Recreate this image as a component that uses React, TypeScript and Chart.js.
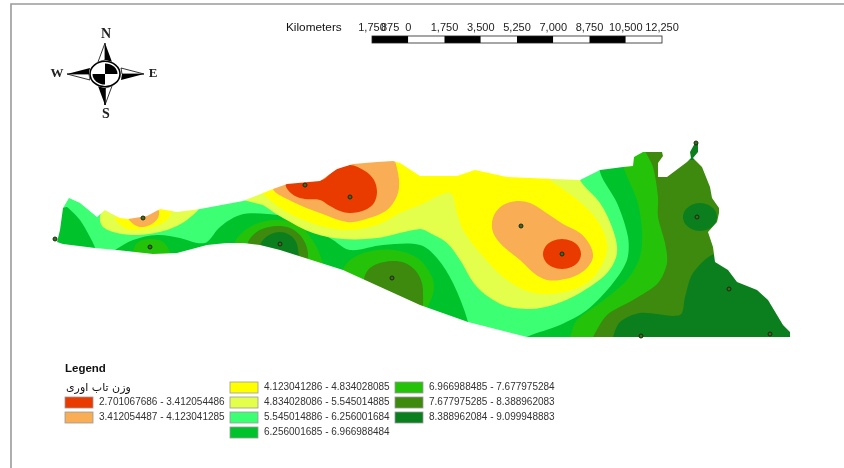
import React, { useEffect, useRef } from "react";
import { Chart, registerables } from "chart.js";

Chart.register(...registerables);

type P = [number, number];

// class breaks and colours
const classLabels = [
  "2.701067686 - 3.412054486",
  "3.412054487 - 4.123041285",
  "4.123041286 - 4.834028085",
  "4.834028086 - 5.545014885",
  "5.545014886 - 6.256001684",
  "6.256001685 - 6.966988484",
  "6.966988485 - 7.677975284",
  "7.677975285 - 8.388962083",
  "8.388962084 - 9.099948883",
];
const classColors = ["#E93A00", "#F9AE55", "#FFFF00", "#E3FF4B", "#3DFF74", "#00C32C", "#24C30A", "#3D8A0E", "#0B7F1E"];
const legendTitle = "وزن تاب اوری";
const scaleLabels = ["1,750", "875", "0", "1,750", "3,500", "5,250", "7,000", "8,750", "10,500", "12,250"];
const scaleValues = [-1750, -875, 0, 1750, 3500, 5250, 7000, 8750, 10500, 12250];

// study area boundary
const outline: P[] = [
  [57, 242], [60, 230], [63, 208], [69, 198], [80, 203], [97, 217], [105, 210], [110, 213], [120, 218], [128, 219],
  [147, 216], [160, 209], [177, 212], [200, 209], [243, 201], [273, 189], [287, 184], [320, 181], [337, 169],
  [353, 164], [377, 162], [393, 161], [400, 163], [420, 176], [457, 176], [475, 170], [507, 177], [553, 179],
  [580, 180], [600, 170], [623, 167], [633, 166], [634, 157], [643, 152], [662, 152], [663, 156], [658, 163],
  [658, 177], [667, 177], [687, 162], [691, 158], [690, 152], [695, 143], [698, 143], [698, 152], [693, 158],
  [702, 167], [710, 187], [712, 198], [719, 208], [719, 213], [717, 222], [708, 232], [713, 247], [715, 262], [728, 270],
  [737, 282], [757, 290], [768, 300], [783, 325], [790, 332], [790, 337], [527, 337], [468, 322], [420, 305],
  [343, 270], [280, 250], [260, 245], [243, 243], [227, 243], [207, 245], [177, 253], [153, 254], [117, 250],
  [95, 248], [63, 244],
];

// contour zones, back to front
const baseZone: P[] = [[40, 140], [800, 140], [800, 345], [40, 345]];
const seDark: P[] = [[613, 345], [613, 337], [620, 322], [640, 313], [680, 315], [685, 297], [693, 273], [715, 254], [790, 250], [795, 345]];
const neDark: P[] = [[717, 217], [714.7, 224], [708.5, 229], [700, 231], [691.5, 229], [685.3, 224], [683, 217], [685.3, 210], [691.5, 205], [700, 203], [708.5, 205], [714.7, 210]];
const neSliver: P[] = [[689, 160], [690, 150], [695, 142], [699, 142], [699, 152], [695, 160]];
const eastMid: P[] = [[40, 140], [645, 140], [645, 150], [653, 167], [658, 197], [658, 217], [665, 243], [667, 263], [658, 283], [633, 300], [607, 315], [593, 337], [590, 345], [40, 345]];
const eastGreen: P[] = [[40, 140], [623, 140], [623, 165], [637, 200], [642, 230], [640, 257], [627, 280], [600, 303], [577, 320], [570, 337], [568, 345], [40, 345]];
const midLightGreen: P[] = [[40, 140], [600, 140], [600, 172], [617, 203], [628, 237], [627, 260], [613, 283], [587, 310], [560, 325], [527, 337], [520, 345], [40, 345]];
const southGreen: P[] = [[115, 250], [133, 240], [157, 235], [180, 238], [197, 243], [207, 242], [220, 227], [240, 215], [267, 214], [300, 220], [333, 240], [350, 250], [383, 245], [420, 245], [437, 258], [453, 283], [468, 322], [470, 345], [115, 345]];
const westLobe: P[] = [[62, 208], [67, 207], [80, 220], [90, 237], [95, 250], [55, 250]];
const westLightYellow: P[] = [[100, 217], [107, 205], [160, 205], [200, 205], [187, 220], [167, 230], [140, 235], [117, 233], [103, 227]];
const westYellow: P[] = [[115, 218], [128, 215], [163, 205], [172, 208], [167, 220], [153, 227], [133, 230], [123, 227]];
const westOrange: P[] = [[128, 216], [158, 210], [158, 218], [150, 225], [140, 227], [132, 223]];
const lowMid: P[] = [[133, 254], [137, 243], [150, 239], [163, 242], [170, 254], [165, 262], [135, 262]];
const centerMid: P[] = [[235, 245], [240, 235], [250, 227], [262, 222], [275, 220], [290, 222], [303, 229], [313, 241], [320, 255], [322, 270], [262, 265]];
const centerOlive: P[] = [[248, 245], [252, 236], [262, 229], [277, 226], [290, 228], [300, 235], [306, 245], [308, 255], [305, 265], [260, 262]];
const centerDark: P[] = [[260, 248], [263, 240], [271, 234], [280, 232], [288, 234], [295, 240], [298, 249], [297, 262], [268, 258]];
const southMid: P[] = [[343, 272], [353, 258], [377, 250], [400, 251], [420, 260], [433, 280], [432, 297], [420, 312], [360, 295]];
const southOlive: P[] = [[364, 280], [368, 270], [377, 264], [392, 261], [405, 263], [415, 270], [421, 280], [423, 292], [420, 310], [370, 300]];
const bigLightYellow: P[] = [[243, 200], [300, 150], [400, 150], [580, 165], [580, 180], [600, 203], [613, 230], [617, 253], [607, 273], [580, 293], [553, 305], [530, 309], [503, 305], [477, 287], [460, 260], [447, 243], [430, 233], [420, 229], [377, 238], [343, 239], [313, 233], [283, 218], [263, 205]];
const bigYellow: P[] = [[262, 193], [283, 210], [317, 225], [347, 230], [377, 225], [400, 213], [420, 205], [450, 193], [457, 213], [463, 230], [480, 253], [503, 277], [530, 292], [560, 293], [587, 283], [603, 263], [607, 243], [597, 220], [580, 202], [560, 187], [550, 179], [550, 150], [400, 150], [262, 170]];
const northOrange: P[] = [[273, 189], [287, 178], [320, 176], [337, 160], [353, 155], [390, 155], [398, 173], [398, 193], [387, 210], [363, 220], [347, 222], [320, 213], [293, 202]];
const northRed: P[] = [[286, 184], [300, 181], [322, 180], [335, 170], [350, 165], [365, 171], [374, 180], [377, 192], [374, 203], [365, 210], [350, 213], [340, 211], [330, 206], [320, 200], [305, 199], [295, 196], [288, 190]];
const centralOrange: P[] = [[492, 228], [494, 215], [503, 205], [517, 201], [530, 203], [545, 212], [563, 224], [580, 233], [590, 245], [593, 257], [587, 268], [575, 276], [560, 280], [547, 280], [535, 274], [520, 260], [505, 248], [496, 238]];
const centralRed: P[] = [[581, 254], [578.5, 261.5], [571.5, 267], [562, 269], [552.5, 267], [545.5, 261.5], [543, 254], [545.5, 246.5], [552.5, 241], [562, 239], [571.5, 241], [578.5, 246.5]];

// [class index, boundary, smoothing, closed curve]
const zones: [number, P[], number, boolean][] = [
  [7, baseZone, 0, false], [8, seDark, 0.3, false], [8, neDark, 0.33, true], [8, neSliver, 0, false],
  [6, eastMid, 0.3, false], [5, eastGreen, 0.3, false], [4, midLightGreen, 0.3, false],
  [5, southGreen, 0.33, false], [5, westLobe, 0.2, false], [3, westLightYellow, 0.33, true],
  [2, westYellow, 0.33, true], [1, westOrange, 0.33, true], [6, lowMid, 0.33, true],
  [6, centerMid, 0.33, true], [7, centerOlive, 0.33, true], [8, centerDark, 0.33, true],
  [6, southMid, 0.33, true], [7, southOlive, 0.33, true], [3, bigLightYellow, 0.33, false],
  [2, bigYellow, 0.33, false], [1, northOrange, 0.33, true], [0, northRed, 0.33, true],
  [1, centralOrange, 0.33, true], [0, centralRed, 0.33, true],
];

// sample stations
const stations: P[] = [
  [55, 239], [143, 218], [150, 247], [305, 185], [350, 197], [280, 244], [392, 278], [521, 226],
  [562, 254], [697, 217], [729, 289], [641, 336], [770, 334], [696, 143],
];

// frame of the layout
const frame: P[] = [[11, 468], [11, 4], [844, 4]];

// compass needle parts
const needlesBlack: P[][] = [
  [[105, 43], [112, 62], [105, 60]], [[105, 105], [98, 86], [105, 88]],
  [[67, 74], [90, 68], [89, 74]], [[144, 74], [121, 80], [122, 74]],
];
const needlesLine: P[][] = [
  [[105, 43], [98, 62], [105, 60], [105, 43]], [[105, 105], [112, 86], [105, 88], [105, 105]],
  [[67, 74], [90, 80], [89, 74], [67, 74]], [[144, 74], [121, 68], [122, 74], [144, 74]],
];

const maskBox: P[] = [[38, 242], [38, 356], [815, 356], [815, 130], [38, 130], [38, 242]];

const xy = (pts: P[]) => pts.map(([x, y]) => ({ x, y }));
const serif = "'Liberation Serif'";
const sans = "'Liberation Sans'";

const annotate = {
  id: "annotate",
  afterDatasetsDraw(chart: any) {
    const { ctx, scales } = chart;
    const X = (v: number) => scales.x.getPixelForValue(v);
    const Y = (v: number) => scales.y.getPixelForValue(v);
    const text = (s: string, x: number, y: number, font: string, color = "#111", align: CanvasTextAlign = "left") => {
      ctx.font = font;
      ctx.fillStyle = color;
      ctx.textAlign = align;
      ctx.textBaseline = "middle";
      ctx.fillText(s, X(x), Y(y));
    };
    ctx.save();

    // compass disc
    const cx = X(105), cy = Y(74);
    ctx.beginPath();
    ctx.ellipse(cx, cy, 16, 13.5, 0, 0, Math.PI * 2);
    ctx.fillStyle = "#fff";
    ctx.fill();
    ctx.beginPath();
    ctx.ellipse(cx, cy, 12.5, 10.5, 0, 0, Math.PI * 2);
    ctx.save();
    ctx.clip();
    ctx.fillStyle = "#000";
    ctx.fillRect(cx, cy - 14, 17, 14);
    ctx.fillRect(cx - 17, cy, 17, 14);
    ctx.restore();
    ctx.beginPath();
    ctx.ellipse(cx, cy, 15, 12.7, 0, 0, Math.PI * 2);
    ctx.lineWidth = 1.6;
    ctx.strokeStyle = "#000";
    ctx.stroke();
    text("N", 106, 34, `bold 14px ${serif}`, "#222", "center");
    text("S", 106, 114, `bold 14px ${serif}`, "#222", "center");
    text("W", 57, 74, `bold 13px ${serif}`, "#222", "center");
    text("E", 153, 74, `bold 13px ${serif}`, "#222", "center");

    // scale bar
    const barX = 372, barW = 290, segs = 8, segW = barW / segs;
    for (let i = 0; i < segs; i++) {
      ctx.fillStyle = i % 2 === 0 ? "#000" : "#fff";
      ctx.fillRect(X(barX + i * segW), Y(36), segW, 7);
    }
    ctx.strokeStyle = "#222";
    ctx.lineWidth = 0.8;
    ctx.strokeRect(X(barX), Y(36), barW, 7);
    scaleValues.forEach((v, i) => {
      const px = barX + ((v + 1750) / 14000) * barW;
      text(scaleLabels[i], px, 28, `11px ${sans}`, "#222", "center");
    });
    text("Kilometers", 286, 28, `11.8px ${sans}`);

    // legend
    text("Legend", 65, 369, `bold 11.5px ${sans}`);
    ctx.direction = "rtl";
    text(legendTitle, 66, 388, `11px 'DejaVu Sans'`, "#111", "left");
    ctx.direction = "ltr";
    const cols = [{ sx: 65, rows: [1, 2] }, { sx: 230, rows: [0, 1, 2, 3] }, { sx: 395, rows: [0, 1, 2] }];
    let k = 0;
    cols.forEach((c) => {
      c.rows.forEach((r) => {
        const y = 382 + r * 15;
        ctx.fillStyle = classColors[k];
        ctx.fillRect(X(c.sx), Y(y), 28, 11);
        ctx.strokeStyle = "#999";
        ctx.lineWidth = 0.8;
        ctx.strokeRect(X(c.sx), Y(y), 28, 11);
        text(classLabels[k], c.sx + 34, y + 5.5, `10px ${sans}`, "#333");
        k++;
      });
    });
    ctx.restore();
  },
};

export default function App() {
  const ref = useRef<HTMLCanvasElement>(null);
  useEffect(() => {
    const poly = (pts: P[], color: string, tension = 0.33) => ({
      data: xy(pts), showLine: true, fill: "shape", backgroundColor: color, borderWidth: 0, pointRadius: 0, tension,
    });
    const sets: any[] = zones.map(([c, pts, t, closed]) =>
      poly(closed ? [...pts, pts[0], pts[1], pts[2]] : pts, classColors[c], t)
    );
    // white sheet with the study area cut out of it trims the zones to the boundary
    sets.push(poly([...maskBox, ...outline, outline[0], maskBox[0]], "#fff", 0));
    sets.push({
      data: xy(stations), showLine: false, pointRadius: 2, pointBorderWidth: 1,
      pointBorderColor: "#1c2a14", pointBackgroundColor: "#3d6a1e",
    });
    sets.push({ data: xy(frame), showLine: true, borderColor: "#9a9a9a", borderWidth: 1.6, pointRadius: 0, fill: false, tension: 0 });
    needlesBlack.forEach((n) => sets.push(poly(n, "#000", 0)));
    needlesLine.forEach((n) => sets.push({ data: xy(n), showLine: true, borderColor: "#000", borderWidth: 0.8, pointRadius: 0, fill: false, tension: 0 }));
    sets.forEach((s, i) => (s.order = -i));

    const chart = new Chart(ref.current as HTMLCanvasElement, {
      type: "scatter",
      data: { datasets: sets },
      options: {
        animation: false,
        responsive: false,
        events: [],
        layout: { padding: 0, autoPadding: false },
        plugins: { legend: { display: false }, tooltip: { enabled: false } },
        scales: {
          x: { type: "linear", min: 0, max: 844, display: false },
          y: { type: "linear", min: 0, max: 468, reverse: true, display: false },
        },
      },
      plugins: [annotate],
    } as any);
    return () => chart.destroy();
  }, []);
  return (
    <div style={{ position: "absolute", left: 0, top: 0, width: 844, height: 468, background: "#fff" }}>
      <canvas ref={ref} width={844} height={468} style={{ display: "block", filter: "blur(0.35px)" }} />
    </div>
  );
}
